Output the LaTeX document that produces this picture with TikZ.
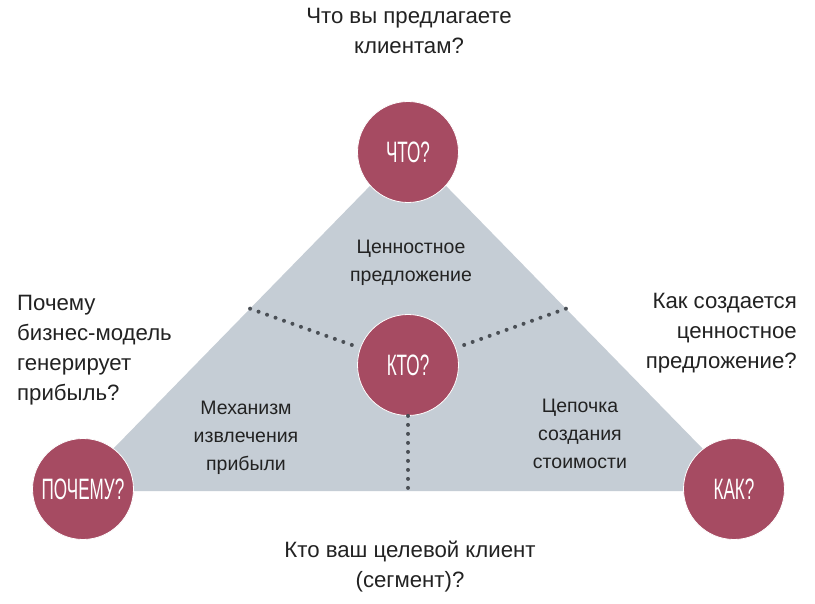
\documentclass[tikz,border=0pt]{standalone}
\usepackage{fontspec}
\setmainfont{Liberation Sans}
\newfontfamily\condfont[FakeStretch=0.58]{Liberation Sans}
\usepackage{xcolor}
\definecolor{Rose}{HTML}{A64B62}
\definecolor{Slate}{HTML}{C5CDD5}
\definecolor{Dots}{HTML}{4A4F55}
\definecolor{Ink}{HTML}{222222}
\usepackage{tikz}
\usetikzlibrary{positioning,calc}
\tikzset{
  qcircle/.style={
    circle,
    fill=Rose,
    draw=white,
    line width=0.8pt,
    minimum size=101pt,
    inner sep=0pt,
    text=white,
    font=\condfont\fontsize{29.5}{30}\selectfont
  },
  outertext/.style={
    align=center,
    text=Ink,
    inner sep=0pt,
    font=\fontsize{22.2}{30}\selectfont
  },
  innertext/.style={
    align=center,
    text=Ink,
    inner sep=0pt,
    font=\fontsize{19.5}{28}\selectfont
  },
  dotline/.style={
    draw=Dots,
    line width=4pt,
    line cap=round,
    dash pattern=on 0pt off 9pt
  }
}

\begin{document}
\begin{tikzpicture}[x=1pt,y=-1pt]
\useasboundingbox[fill=white] (0,0) rectangle (815,604);
% triangle corners
\coordinate (top) at (408,147);
\coordinate (left) at (72,491);
\coordinate (right) at (744,491);
\fill[Slate] (top) -- (left) -- (right) -- cycle;
% points where the dotted lines meet the edges
\coordinate (edgeL) at ($(top)!0.47!(left)$);
\coordinate (edgeR) at ($(top)!0.47!(right)$);
\coordinate (edgeB) at ($(left)!0.5!(right)$);
\node[qcircle] (kto) at (408,365) {КТО?};
\draw[dotline] (edgeL) -- (kto);
\draw[dotline] (edgeR) -- (kto);
\draw[dotline] (kto.south) -- (edgeB);
\node[qcircle] (chto) at (408,152) {ЧТО?};
\node[qcircle] (pochemu) at (83,489) {ПОЧЕМУ?};
\node[qcircle] (kak) at (734,489) {КАК?};
% questions around the triangle
\node[outertext] (offer) at (409,31) {Что вы предлагаете\\клиентам?};
\node[outertext, align=left, anchor=west] (profit) at (17,350) {Почему\\бизнес-модель\\генерирует\\прибыль?};
\node[outertext, align=right, anchor=east] (create) at (797,333) {Как создается\\ценностное\\предложение?};
\node[outertext] (client) at (410,567) {Кто ваш целевой клиент\\(сегмент)?};
% labels inside the triangle
\node[innertext] (value) at (411,263) {Ценностное\\предложение};
\node[innertext] (mech) at (246,438) {Механизм\\извлечения\\прибыли};
\node[innertext] (chain) at (580,434) {Цепочка\\создания\\стоимости};
\end{tikzpicture}
\end{document}
